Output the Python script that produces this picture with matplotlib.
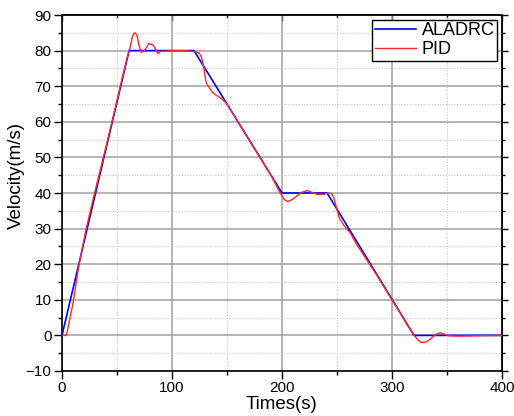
import matplotlib
matplotlib.use("Agg")
import matplotlib.pyplot as plt
from matplotlib.ticker import MultipleLocator

plt.rcParams['font.family'] = ['Liberation Sans', 'DejaVu Sans']

# ALADRC reference-tracking response
t_aladrc = [0, 61, 120, 200, 241, 320, 400]
v_aladrc = [0, 80, 80, 40, 40, 0, 0]

# PID response
t_pid = [0, 4, 10, 15, 22, 30, 40, 50, 58, 62, 64, 66, 68, 70, 72, 75, 79, 83, 87, 90,
         95, 100, 110, 118, 122, 125, 127, 129, 131, 134, 137, 140, 145, 150, 160, 170,
         180, 190, 198, 202, 205, 207, 210, 214, 218, 223, 227, 232, 238, 241, 243, 245,
         247, 249, 252, 256, 262, 268, 275, 285, 300, 310, 316, 320, 323, 326, 329, 332,
         335, 338, 341, 344, 348, 352, 360, 380, 400]
v_pid = [0, 0, 9, 19, 30, 40.5, 53, 66, 76.5, 81, 84, 85, 84.5, 81.5, 79.5, 80, 82, 81.5,
         79.2, 79.8, 79.8, 80, 80, 79.8, 79.6, 79.2, 78, 75, 71, 69.5, 68.2, 67.5, 66.5, 65,
         60, 55, 50, 45, 40.2, 38.2, 37.6, 37.8, 38.3, 39.3, 40.2, 40.7, 40.2, 39.6, 39.6,
         39.9, 40, 39.8, 38.8, 36.5, 33, 31, 28.8, 25.5, 22.2, 17.5, 10, 5, 2, 0, -1, -1.9,
         -2, -1.7, -1, -0.2, 0.5, 0.7, 0.3, -0.1, -0.2, -0.1, 0]

x_label = "Times(s)"
y_label = "Velocity(m/s)"

fig = plt.figure(figsize=(5.14, 4.16), dpi=100)
ax = fig.add_axes([62/514, 1-371/416, 440/514, 356/416])

ax.plot(t_aladrc, v_aladrc, color='#0000ff', lw=1.2, label='ALADRC', zorder=3)
ax.plot(t_pid, v_pid, color='#ff2828', lw=1.0, label='PID', zorder=4)

ax.set_xlim(0, 400)
ax.set_ylim(-10, 90)
ax.xaxis.set_major_locator(MultipleLocator(100))
ax.xaxis.set_minor_locator(MultipleLocator(50))
ax.yaxis.set_major_locator(MultipleLocator(10))
ax.yaxis.set_minor_locator(MultipleLocator(5))

ax.grid(which='major', color='#a0a0a0', lw=1.1, ls='-')
ax.grid(which='minor', color='#c8c8c8', lw=0.8, ls=(0, (1, 1.5)))
ax.set_axisbelow(True)

for s in ax.spines.values():
    s.set_linewidth(1.2)
    s.set_color('black')

ax.tick_params(which='both', direction='out', top=False, right=False,
               labelsize=11, width=1.0, colors='black', pad=2)
ax.tick_params(which='major', length=5.5)
ax.tick_params(which='minor', length=3)

sec_top = ax.secondary_xaxis('top')
sec_top.xaxis.set_major_locator(MultipleLocator(100))
sec_top.xaxis.set_minor_locator(MultipleLocator(50))
sec_top.tick_params(which='both', direction='in', labeltop=False, width=1.0)
sec_top.tick_params(which='major', length=4)
sec_top.tick_params(which='minor', length=2.5)
sec_top.spines['top'].set_linewidth(1.2)

sec_right = ax.secondary_yaxis('right')
sec_right.yaxis.set_major_locator(MultipleLocator(10))
sec_right.yaxis.set_minor_locator(MultipleLocator(5))
sec_right.tick_params(which='both', direction='out', labelright=False, width=1.0)
sec_right.tick_params(which='major', length=4)
sec_right.tick_params(which='minor', length=2.5)
sec_right.spines['right'].set_linewidth(1.2)

ax.set_xlabel(x_label, fontsize=13.5, labelpad=0.5)
ax.set_ylabel(y_label, fontsize=13.5, labelpad=3)
ax.yaxis.set_label_coords(-0.085, 0.55)

leg = ax.legend(loc='upper right', fontsize=13, frameon=True, fancybox=False,
                edgecolor='black', framealpha=1, handlelength=2.3, handletextpad=0.3,
                borderpad=0.15, labelspacing=0.1, borderaxespad=0.25)
leg.get_frame().set_linewidth(1.0)

fig.savefig('out.png', dpi=100)
